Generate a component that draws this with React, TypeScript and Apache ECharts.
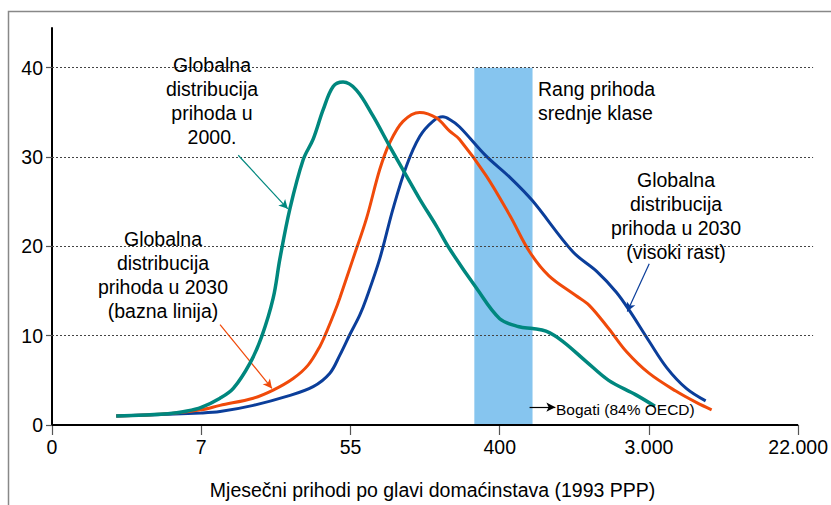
import React, { useEffect, useRef } from "react";
import * as echarts from "echarts";

// x positions are in log-step units: 0 -> "0", 1 -> "7", 2 -> "55", 3 -> "400", 4 -> "3.000", 5 -> "22.000"
const xTickLabels = ["0", "7", "55", "400", "3.000", "22.000"];
const yTickValues = [0, 10, 20, 30, 40];

const dist2000: [number, number][] = [
  [0.43, 1.0], [0.777, 1.26], [0.905, 1.56], [1.0, 1.97], [1.126, 3.0], [1.215, 4.1], [1.326, 6.9], [1.405, 9.9],
  [1.482, 14.2], [1.527, 18.6], [1.594, 24.2], [1.683, 29.7], [1.75, 32.0], [1.817, 35.3],
  [1.884, 37.9], [1.95, 38.4], [2.04, 37.5], [2.151, 34.6], [2.263, 31.2], [2.375, 27.9],
  [2.464, 25.3], [2.575, 22.3], [2.665, 19.7], [2.845, 15.3], [3.0, 11.9], [3.13, 11.0],
  [3.22, 10.8], [3.31, 10.5], [3.42, 9.4], [3.58, 7.1], [3.73, 5.0], [3.91, 3.4], [4.04, 2.1],
];

const dist2030Base: [number, number][] = [
  [0.43, 1.0], [0.8, 1.3], [1.0, 1.7], [1.126, 2.2], [1.349, 3.0], [1.482, 3.9], [1.616, 5.2],
  [1.716, 6.7], [1.795, 8.8], [1.839, 10.4], [1.895, 12.7], [1.928, 14.2], [2.017, 18.6],
  [2.107, 23.1], [2.196, 28.6], [2.263, 31.6], [2.352, 34.0], [2.464, 35.0], [2.575, 34.4],
  [2.665, 32.9], [2.73, 32.0], [2.91, 27.9], [3.07, 23.4], [3.2, 19.4], [3.33, 16.7],
  [3.51, 14.5], [3.6, 13.4], [3.73, 10.8], [3.85, 8.2], [4.0, 5.8], [4.18, 3.8],
  [4.32, 2.5], [4.42, 1.7],
];

const dist2030High: [number, number][] = [
  [0.43, 1.0], [1.0, 1.34], [1.126, 1.5], [1.349, 2.2], [1.572, 3.2], [1.75, 4.3],
  [1.862, 5.8], [1.928, 7.8], [1.995, 10.1], [2.062, 12.3], [2.107, 14.2], [2.196, 18.6],
  [2.285, 24.2], [2.375, 29.0], [2.464, 32.3], [2.552, 34.0], [2.619, 34.5], [2.665, 34.2],
  [2.73, 33.4], [2.91, 30.1], [3.07, 27.7], [3.22, 25.1], [3.49, 19.4], [3.65, 17.2],
  [3.78, 14.9], [3.87, 12.8], [4.0, 9.4], [4.12, 6.4], [4.25, 4.1], [4.38, 2.7],
];

const middleClassBand: [number, number] = [2.83, 3.22];
const gridValues = [10, 20, 30, 40];

const TEAL = "#00877E";
const ORANGE = "#F04A0A";
const BLUE = "#0B3E9A";
const FONT = "Liberation Sans, Arial, sans-serif";
const FS = 19.5;

export default function App() {
  const ref = useRef<HTMLDivElement>(null);
  useEffect(() => {
    if (!ref.current) return;
    const chart = echarts.init(ref.current, null, { renderer: "svg" });
    const arrow = (from: [number, number], to: [number, number], color: string, width = 1.2) => [
      { coord: from, lineStyle: { color, width, type: "solid" }, itemStyle: { color } },
      { coord: to },
    ];
    chart.setOption({
      animation: false,
      backgroundColor: "#fff",
      textStyle: { fontFamily: FONT },
      grid: { left: 52, right: 17, top: 28, bottom: 78 },
      xAxis: {
        type: "value",
        min: 0,
        max: 5.1,
        interval: 1,
        axisLine: { show: false },
        splitLine: { show: false },
        axisTick: { show: true, customValues: [0, 1, 2, 3, 4, 5], length: 10, lineStyle: { color: "#555", width: 1.2 } },
        axisLabel: {
          customValues: [0, 1, 2, 3, 4, 5],
          formatter: (v: number) => xTickLabels[Math.round(v)] ?? "",
          color: "#000",
          fontSize: FS,
          fontFamily: FONT,
          margin: 12,
        },
        name: "Mjesečni prihodi po glavi domaćinstava (1993 PPP)",
        nameLocation: "middle",
        nameGap: 55,
        nameTextStyle: { color: "#000", fontSize: FS, fontFamily: FONT },
      },
      yAxis: {
        type: "value",
        min: 0,
        max: 44.45,
        interval: 10,
        axisLine: { show: true, lineStyle: { color: "#000", width: 2 } },
        splitLine: { show: false },
        axisTick: { show: true, customValues: yTickValues, length: 6, lineStyle: { color: "#555", width: 1.2 } },
        axisLabel: {
          customValues: yTickValues,
          color: "#000",
          fontSize: FS,
          fontFamily: FONT,
          margin: 9,
        },
      },
      graphic: [
        {
          type: "rect",
          shape: { x: 8.5, y: 11.5, width: 900, height: 600 },
          style: { fill: "none", stroke: "#888", lineWidth: 1.5 },
          silent: true,
          z: -10,
        },
        {
          type: "text",
          x: 212, y: 101,
          style: { text: "Globalna\ndistribucija\nprihoda u\n2000.", fill: "#000", font: `${FS}px ${FONT}`, align: "center", verticalAlign: "middle", lineHeight: 24 },
          z: 100,
        },
        {
          type: "text",
          x: 163, y: 275,
          style: { text: "Globalna\ndistribucija\nprihoda u 2030\n(bazna linija)", fill: "#000", font: `${FS}px ${FONT}`, align: "center", verticalAlign: "middle", lineHeight: 24.3 },
          z: 100,
        },
        {
          type: "text",
          x: 676, y: 216,
          style: { text: "Globalna\ndistribucija\nprihoda u 2030\n(visoki rast)", fill: "#000", font: `${FS}px ${FONT}`, align: "center", verticalAlign: "middle", lineHeight: 24 },
          z: 100,
        },
        {
          type: "text",
          x: 538, y: 101,
          style: { text: "Rang prihoda\nsrednje klase", fill: "#000", font: `${FS}px ${FONT}`, align: "left", verticalAlign: "middle", lineHeight: 24 },
          z: 100,
        },
        {
          type: "text",
          x: 556, y: 409,
          style: { text: "Bogati (84% OECD)", fill: "#000", font: `15.5px ${FONT}`, align: "left", verticalAlign: "middle" },
          z: 100,
        },
      ],
      series: [
        {
          type: "line",
          data: [],
          z: 1,
          silent: true,
          markLine: {
            silent: true,
            symbol: ["none", "none"],
            label: { show: false },
            lineStyle: { color: "#444", width: 1, type: [2, 2] },
            data: gridValues.map((v) => ({ yAxis: v })),
          },
        },
        {
          type: "line",
          data: [],
          z: 2,
          silent: true,
          markArea: {
            silent: true,
            itemStyle: { color: "#86C5EF", opacity: 1 },
            data: [[{ xAxis: middleClassBand[0], yAxis: 0 }, { xAxis: middleClassBand[1], yAxis: 40 }]],
          },
          markLine: {
            silent: true,
            symbol: ["none", "none"],
            label: { show: false },
            lineStyle: { color: "#000", width: 2, type: "solid" },
            data: [[{ coord: [0, 0] }, { coord: [5, 0] }]],
          },
        },
        {
          name: "2000",
          type: "line",
          data: dist2000,
          smooth: 0.35,
          showSymbol: false,
          z: 5,
          lineStyle: { color: TEAL, width: 3.5 },
          itemStyle: { color: TEAL },
        },
        {
          name: "2030 bazna",
          type: "line",
          data: dist2030Base,
          smooth: 0.35,
          showSymbol: false,
          z: 4,
          lineStyle: { color: ORANGE, width: 3 },
          itemStyle: { color: ORANGE },
        },
        {
          name: "2030 visoki",
          type: "line",
          data: dist2030High,
          smooth: 0.35,
          showSymbol: false,
          z: 3,
          lineStyle: { color: BLUE, width: 3 },
          itemStyle: { color: BLUE },
        },
        {
          type: "line",
          data: [],
          z: 6,
          silent: true,
          markLine: {
            silent: true,
            symbol: ["none", "arrow"],
            symbolSize: [7, 9],
            label: { show: false },
            data: [
              arrow([1.248, 30.2], [1.58, 24.2], TEAL),
              arrow([1.126, 11.25], [1.474, 4.1], ORANGE),
              arrow([4.002, 18.05], [3.855, 12.7], BLUE),
              arrow([3.2, 2.0], [3.373, 2.0], "#000"),
            ],
          },
        },
      ],
    });
    return () => chart.dispose();
  }, []);
  return <div ref={ref} style={{ position: "absolute", left: 0, top: 0, width: 831, height: 505 }} />;
}
